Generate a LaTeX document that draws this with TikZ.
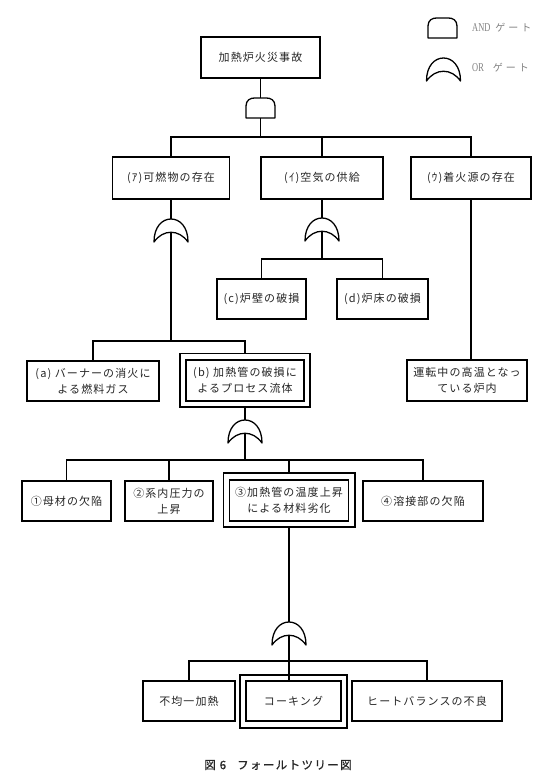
\documentclass[tikz,border=0pt]{standalone}
\usepackage{fontspec}
\newfontfamily\jp{Noto Sans CJK JP}[LetterSpace=10]
\newfontfamily\jpb{Noto Sans CJK JP}[LetterSpace=12, FakeBold=0.8]
\newfontfamily\jpleg{Noto Sans CJK JP}[LetterSpace=30]
\newfontfamily\legserif{Liberation Serif}[FakeStretch=0.7]
\tikzset{
  orgate/.pic={
    \draw[gatepath] (-17,-23) .. controls (-17,-8) and (-9,0) .. (0,0)
      .. controls (9,0) and (17,-8) .. (17,-23)
      .. controls (8,-10) and (-8,-10) .. cycle;
    \coordinate (-top) at (0,0);
    \coordinate (-out) at (0,-13.2);
  },
  andgate/.pic={
    \draw[gatepath] (-14.5,-20) -- (-14.5,-8) .. controls (-14.5,-2) and (-10,0) .. (-6,0)
      -- (6,0) .. controls (10,0) and (14.5,-2) .. (14.5,-8) -- (14.5,-20) -- cycle;
    \coordinate (-top) at (0,0);
    \coordinate (-out) at (0,-20);
  }
}
\begin{document}
\begin{tikzpicture}[x=1pt,y=1pt,
  gatepath/.style={line width=1.3pt, line join=round},
  conn/.style={line width=1.3pt},
  box/.style={draw, line width=1.4pt, inner sep=0pt, align=center,
    font=\jp\fontsize{11}{16}\selectfont, text=black!85},
  wh/.style 2 args={minimum width=#1pt, minimum height=#2pt},
  outerbox/.style={line width=1.6pt},
  legtext/.style={anchor=west, inner sep=0pt, text=black!50}]
\useasboundingbox (0,0) rectangle (550,-779);
\fill[white] (0,0) rectangle (550,-779);

% legend
\pic (legand) at (442.5,-18) {andgate};
\pic (legor) at (443.5,-58) {orgate};
\node[legtext] (legandt) at (472,-28) {\fontsize{12}{12}\selectfont\legserif AND\hspace{5pt}\jpleg\fontsize{10}{10}\selectfont ゲート};
\node[legtext] (legort) at (472,-68) {\fontsize{12}{12}\selectfont\legserif OR\hspace{9pt}\jpleg\fontsize{10}{10}\selectfont ゲート};

% nodes
\node[box, wh={119}{41}] (top) at (260.5,-57.5) {加熱炉火災事故};
\node[box, wh={117}{42}] (A) at (171,-178) {(ｱ)可燃物の存在};
\node[box, wh={122}{42}] (I) at (322,-178) {(ｲ)空気の供給};
\node[box, wh={120}{42}] (U) at (471,-178) {(ｳ)着火源の存在};
\node[box, wh={89}{40}] (c) at (261.5,-299) {(c)炉壁の破損};
\node[box, wh={91}{40}] (d) at (382.5,-299) {(d)炉床の破損};
\node[box, wh={132}{40}] (a) at (93,-381) {(a) バーナーの消火に\\よる燃料ガス};
\node[box, wh={118}{41}] (b) at (245,-380.5) {(b) 加熱管の破損に\\よるプロセス流体};
\node[box, wh={120}{41}] (unten) at (467,-380.5) {運転中の高温となっ\\ている炉内};
\node[box, wh={89}{40}] (n1) at (66.5,-501) {①母材の欠陥};
\node[box, wh={88}{40}] (n2) at (169,-501) {②系内圧力の\\上昇};
\node[box, wh={119}{41}] (n3) at (289,-500.5) {③加熱管の温度上昇\\による材料劣化};
\node[box, wh={120}{40}] (n4) at (423,-501) {④溶接部の欠陥};
\node[box, wh={92}{40}] (fu) at (189,-701) {不均一加熱};
\node[box, wh={95}{40}] (kok) at (293.5,-701) {コーキング};
\node[box, wh={150}{40}] (hb) at (427,-701) {ヒートバランスの不良};

% outer frames of the highlighted events
\draw[outerbox] ([shift={(-5.5,6)}]b.north west) rectangle ([shift={(5.5,-5)}]b.south east);
\draw[outerbox] ([shift={(-5.5,6.5)}]n3.north west) rectangle ([shift={(5.5,-5)}]n3.south east);
\draw[outerbox] ([shift={(-5.5,5.5)}]kok.north west) rectangle ([shift={(5.5,-6)}]kok.south east);

% gates
\pic (g0) at (260.5,-98) {andgate};
\pic (gA) at (171,-219) {orgate};
\pic (gI) at (322,-218) {orgate};
\pic (gB) at (245,-420) {orgate};
\pic (g3) at (289,-622) {orgate};

% bus points
\coordinate (bus1) at (260.5,-137);
\coordinate (bus2) at (171,-341);
\coordinate (busI) at (322,-259);
\coordinate (bus3) at (245,-460);
\coordinate (bus4) at (289,-661);

% connectors
\draw[conn] (top.south) -- (g0-top);
\draw[conn] (g0-out) -- (bus1);
\draw[conn] (A.north) |- (bus1) -| (U.north);
\draw[conn] (I.north) -- (I.north |- bus1);

\draw[conn] (A.south) -- (gA-top);
\draw[conn] (gA-out) -- (bus2);
\draw[conn] (a.north) |- (bus2) -| ([yshift=6pt]b.north);

\draw[conn] (I.south) -- (gI-top);
\draw[conn] (gI-out) -- (busI);
\draw[conn] (c.north) |- (busI) -| (d.north);

\draw[conn] (U.south) -- (U.south |- unten.north);

\draw[conn] ([yshift=-5pt]b.south) -- (gB-top);
\draw[conn] (gB-out) -- (bus3);
\draw[conn] (n1.north) |- (bus3) -| (n4.north);
\draw[conn] (n2.north) -- (n2.north |- bus3);
\draw[conn] ([yshift=6.5pt]n3.north) -- (n3.north |- bus3);

\draw[conn] ([yshift=-5pt]n3.south) -- (g3-top);
\draw[conn] (g3-out) -- (g3-out |- kok.north);
\draw[conn] (fu.north) |- (bus4) -| (hb.north);

% caption
\node[inner sep=0pt, text=black!85, font=\jpb\fontsize{11.5}{11.5}\selectfont] (cap) at (278,-765) {図 6\hspace{11pt}フォールトツリー図};
\end{tikzpicture}
\end{document}
